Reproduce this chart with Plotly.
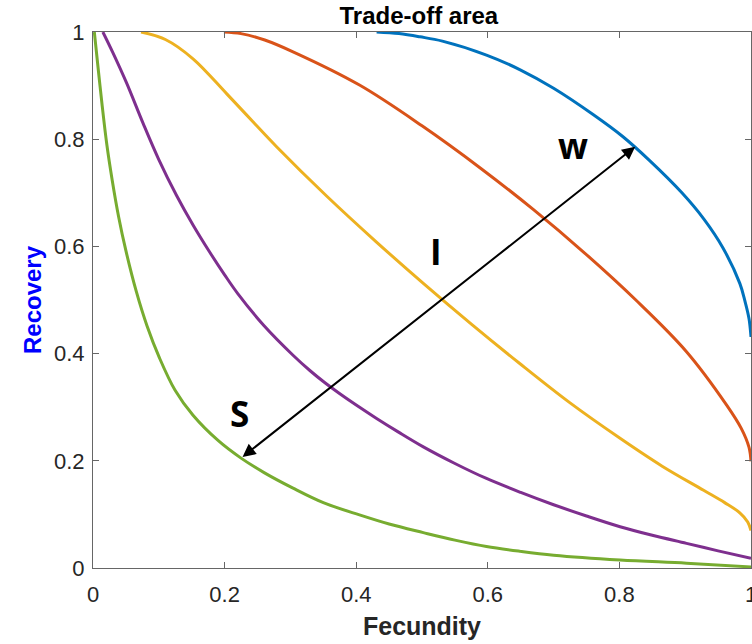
import plotly.graph_objects as go

# ---- data ----
blue_x = [0.431, 0.465, 0.497, 0.531, 0.598, 0.650, 0.700, 0.760, 0.805, 0.846, 0.895, 0.929, 0.957, 0.983, 0.991, 0.997, 1.0]
blue_y = [1.0, 0.997, 0.991, 0.983, 0.957, 0.929, 0.895, 0.846, 0.805, 0.760, 0.700, 0.650, 0.598, 0.531, 0.497, 0.465, 0.431]

orange_x = [0.199, 0.225, 0.261, 0.304, 0.405, 0.500, 0.590, 0.669, 0.745, 0.825, 0.901, 0.963, 0.985, 0.997, 1.0]
orange_y = [1.0, 0.997, 0.985, 0.963, 0.901, 0.825, 0.745, 0.669, 0.590, 0.500, 0.405, 0.304, 0.261, 0.225, 0.199]

yellow_x = [0.073, 0.11, 0.152, 0.203, 0.242, 0.279, 0.355, 0.43, 0.502, 0.575, 0.649, 0.725, 0.801, 0.865, 0.928, 0.96, 0.983, 0.995, 1.0]
yellow_y = [1.0, 0.986, 0.950, 0.885, 0.834, 0.786, 0.694, 0.609, 0.531, 0.455, 0.381, 0.308, 0.242, 0.19, 0.145, 0.122, 0.103, 0.086, 0.07]

purple_x = [0.015, 0.03, 0.051, 0.076, 0.10, 0.127, 0.152, 0.177, 0.20, 0.22, 0.26, 0.304, 0.33, 0.352, 0.373, 0.40,
            0.431, 0.465, 0.502, 0.55, 0.598, 0.65, 0.70, 0.75, 0.801, 0.85, 0.902, 0.95, 1.0]
purple_y = [1.0, 0.962, 0.905, 0.830, 0.762, 0.695, 0.640, 0.590, 0.547, 0.512, 0.452, 0.397, 0.368, 0.346, 0.327, 0.304,
            0.279, 0.253, 0.226, 0.195, 0.167, 0.141, 0.118, 0.097, 0.077, 0.061, 0.046, 0.032, 0.018]

green_x = [0.002, 0.008, 0.014, 0.021, 0.029, 0.039, 0.05, 0.066, 0.082, 0.101, 0.125, 0.152, 0.19, 0.225, 0.26, 0.304,
           0.35, 0.405, 0.45, 0.502, 0.55, 0.598, 0.65, 0.70, 0.801, 0.902, 1.0]
green_y = [1.0, 0.93, 0.862, 0.790, 0.725, 0.655, 0.592, 0.515, 0.452, 0.392, 0.331, 0.285, 0.238, 0.205, 0.178, 0.149,
           0.122, 0.099, 0.082, 0.066, 0.052, 0.040, 0.031, 0.024, 0.015, 0.009, 0.002]

tick_vals = [0, 0.2, 0.4, 0.6, 0.8, 1]
tick_text = ["0", "0.2", "0.4", "0.6", "0.8", "1"]

series = [
    (blue_x, blue_y, "#0072BD"),
    (orange_x, orange_y, "#D95319"),
    (yellow_x, yellow_y, "#EDB120"),
    (purple_x, purple_y, "#7E2F8E"),
    (green_x, green_y, "#77AC30"),
]

fig = go.Figure()
for xs, ys, col in series:
    fig.add_trace(go.Scatter(x=xs, y=ys, mode="lines",
                             line=dict(color=col, width=3, shape="spline", smoothing=1.0),
                             showlegend=False, hoverinfo="skip"))

axis_common = dict(
    range=[0, 1], tickvals=tick_vals, ticktext=tick_text,
    ticks="inside", ticklen=6, tickcolor="#666", tickwidth=1,
    showline=True, linecolor="#666", linewidth=1, mirror="allticks",
    showgrid=False, zeroline=False, automargin=False, ticklabeloverflow="allow",
    tickfont=dict(family="Liberation Sans, Arial", size=22, color="#262626"),
)

fig.update_xaxes(**axis_common, ticklabelstandoff=7,
                 title=dict(text="<b>Fecundity</b>", standoff=11,
                            font=dict(family="Liberation Sans, Arial", size=25, color="#262626")))
fig.update_yaxes(**axis_common, ticklabelstandoff=3,
                 title=dict(text="<b>Recovery</b>", standoff=5,
                            font=dict(family="Liberation Sans, Arial", size=24, color="#0000FF")))

# arrow between the S and W curves
fig.add_annotation(x=0.824, y=0.786, ax=0.225, ay=0.205, xref="x", yref="y", axref="x", ayref="y",
                   text="", showarrow=True, arrowhead=2, startarrowhead=2, arrowside="end+start",
                   arrowsize=1.3, startarrowsize=1.3, arrowwidth=2, arrowcolor="black")

label_font = dict(family="Open Sans, DejaVu Sans", size=35, color="black")
fig.add_annotation(x=0.73, y=0.789, xref="x", yref="y", text="<b>w</b>", showarrow=False, font=label_font)
fig.add_annotation(x=0.522, y=0.59, xref="x", yref="y", text="<b>I</b>", showarrow=False, font=label_font)
fig.add_annotation(x=0.223, y=0.289, xref="x", yref="y", text="<b>S</b>", showarrow=False, font=label_font)

fig.update_layout(
    width=752, height=644,
    margin=dict(l=93, r=1, t=32, b=76),
    paper_bgcolor="white", plot_bgcolor="white",
    title=dict(text="<b>Trade-off area</b>", x=0.557, xanchor="center", y=0.976, yanchor="middle",
               font=dict(family="Liberation Sans, Arial", size=24, color="black")),
)

fig.write_html("out.html", config={"displayModeBar": False},
               post_script="document.body.style.margin='0';")
